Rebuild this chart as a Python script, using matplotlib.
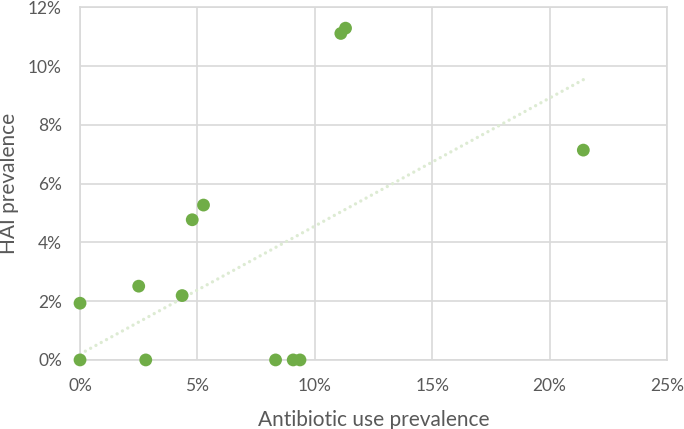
import numpy as np
import matplotlib.pyplot as plt
from matplotlib.ticker import PercentFormatter

# antibiotic use prevalence vs HAI prevalence (%)
abx_use = [0.0, 0.0, 2.5, 2.8, 4.35, 4.78, 5.26, 8.33, 9.08, 9.37, 11.11, 11.31, 21.44]
hai_prev = [1.93, 0.0, 2.51, 0.0, 2.19, 4.77, 5.27, 0.0, 0.0, 0.0, 11.11, 11.29, 7.14]

# trendline as drawn in the original (intercept, slope)
trend_b = 0.2
trend_k = 0.4355

x_ticks = [0, 5, 10, 15, 20, 25]
y_ticks = [0, 2, 4, 6, 8, 10, 12]

plt.rcParams['font.family'] = ['Lato', 'DejaVu Sans']

fig = plt.figure(figsize=(6.84, 4.29), dpi=100)
ax = fig.add_axes([0.117, 0.161, 0.858, 0.822])

xs = np.array([min(abx_use), max(abx_use)])
ax.plot(xs, trend_k * xs + trend_b, color='#DDEBD3', lw=2.4, ls=(0, (0.01, 1.8)),
        dash_capstyle='round', zorder=2)

ax.scatter(abx_use, hai_prev, s=85, color='#70AD47', edgecolors='none',
           zorder=3, clip_on=False)

ax.set_xlim(0, 25)
ax.set_ylim(0, 12)
ax.set_xticks(x_ticks)
ax.set_yticks(y_ticks)
ax.xaxis.set_major_formatter(PercentFormatter(decimals=0))
ax.yaxis.set_major_formatter(PercentFormatter(decimals=0))

ax.grid(True, color='#D9D9D9', lw=1.2)
ax.set_axisbelow(True)
for s in ax.spines.values():
    s.set_color('#D9D9D9')
    s.set_linewidth(1.2)
ax.tick_params(length=0, colors='#595959', labelsize=12.5)
ax.tick_params(axis='x', pad=13)
ax.tick_params(axis='y', pad=13)

ax.set_xlabel('Antibiotic use prevalence', fontsize=15, color='#595959', va='center')
ax.set_ylabel('HAI prevalence', fontsize=15, color='#595959', va='center')
ax.xaxis.set_label_coords(0.5, -0.170)
ax.yaxis.set_label_coords(-0.121, 0.5)

fig.savefig('out.png', dpi=100)
